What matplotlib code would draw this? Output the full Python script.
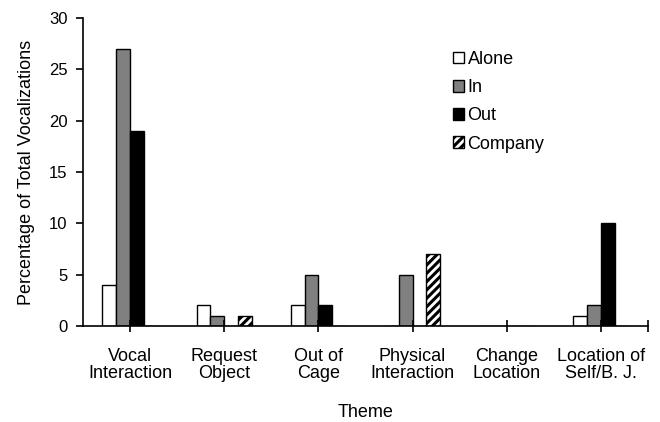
import numpy as np
import matplotlib
matplotlib.use("Agg")
import matplotlib.pyplot as plt
from matplotlib.patches import Patch

plt.rcParams['font.family'] = ['Liberation Sans', 'DejaVu Sans']
plt.rcParams['hatch.linewidth'] = 2.2

themes = ["Vocal\nInteraction", "Request\nObject", "Out of\nCage",
          "Physical\nInteraction", "Change\nLocation", "Location of\nSelf/B. J."]
alone = [4, 2, 2, 0, 0, 1]
inside = [27, 1, 5, 5, 0, 2]
outside = [19, 0, 2, 0, 0, 10]
company = [0, 1, 0, 7, 0, 0]

series = [("Alone", alone, "white", None),
          ("In", inside, "#808080", None),
          ("Out", outside, "black", None),
          ("Company", company, "white", "////")]

fig = plt.figure(figsize=(6.6, 4.22), dpi=100)
ax = fig.add_axes([83 / 660, 1 - 326 / 422, 565 / 660, 308 / 422])

x = np.arange(len(themes))
w = 0.147
for i, (name, vals, col, hatch) in enumerate(series):
    ax.bar(x + (i - 1.5) * w, vals, w, color=col, edgecolor="black",
           linewidth=1, hatch=hatch, label=name)

ax.set_xlim(-0.5, 5.5)
ax.set_ylim(0, 30)
ax.set_yticks(range(0, 31, 5))
ax.set_xticks(list(x) + [5.5])
ax.set_xticklabels(themes + [""], fontsize=13, linespacing=1.05)
ax.tick_params(axis="x", direction="inout", length=9, width=1.2, pad=11)
ax.tick_params(axis="y", direction="out", length=5, width=1.2, pad=6, labelsize=12)
for s in ["top", "right"]:
    ax.spines[s].set_visible(False)
for s in ["left", "bottom"]:
    ax.spines[s].set_linewidth(1.2)

ax.set_ylabel("Percentage of Total Vocalizations", fontsize=13, labelpad=10)
ax.set_xlabel("Theme", fontsize=13, labelpad=16)

handles = [Patch(facecolor=col, edgecolor="black", hatch=h, label=n)
           for n, _, col, h in series]
ax.legend(handles=handles, loc="upper left", bbox_to_anchor=(0.655, 0.893),
          frameon=False, fontsize=13, handlelength=0.6, handleheight=0.6,
          handletextpad=0.2, labelspacing=0.62, borderpad=0, borderaxespad=0)

plt.savefig("out.png", dpi=100)
